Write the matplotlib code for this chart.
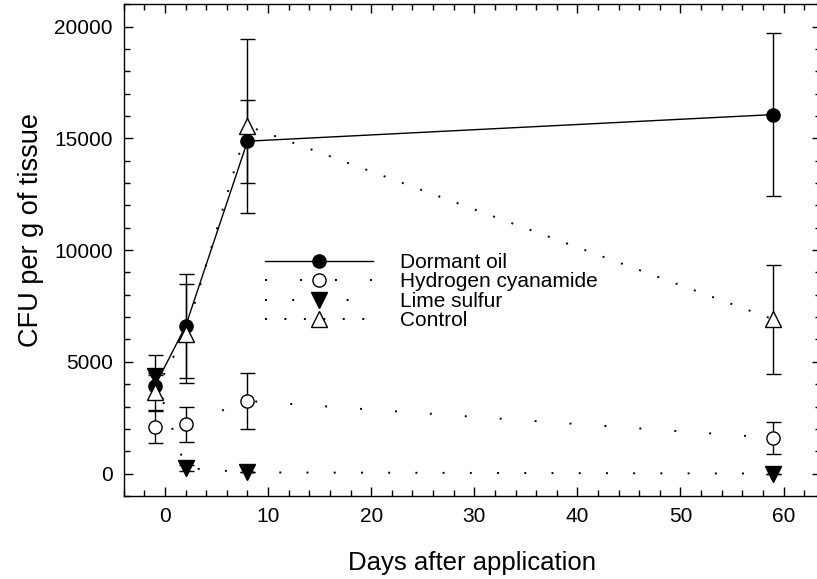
import matplotlib.pyplot as plt
from matplotlib.ticker import MultipleLocator

plt.rcParams['font.family'] = ['Liberation Sans', 'DejaVu Sans']

# sampling days and mean CFU counts (+/- error) for each treatment
days = [-1, 2, 8, 59]

dormant_oil = [3900, 6600, 14870, 16060]
dormant_oil_err = [500, 2320, 1850, 3660]

hydrogen_cyanamide = [2100, 2200, 3250, 1600]
hydrogen_cyanamide_err = [730, 770, 1240, 710]

lime_sulfur = [4350, 250, 50, 0]
lime_sulfur_err = [970, 150, 0, 0]

control = [3650, 6250, 15550, 6900]
control_err = [850, 2220, 3890, 2430]

fig = plt.figure(figsize=(8.17, 5.79), dpi=100)
ax = fig.add_axes([0.1515, 0.1435, 0.853, 0.8493])

bar_kw = dict(capsize=5.4, capthick=1.0, elinewidth=1.0, ecolor='black')

c1 = ax.errorbar(days, dormant_oil, yerr=dormant_oil_err, color='black', lw=1.0,
                 marker='o', ms=9.5, mfc='black', mec='black', mew=1.0, **bar_kw)
c2 = ax.errorbar(days, hydrogen_cyanamide, yerr=hydrogen_cyanamide_err, color='black',
                 lw=1.4, ls=(0, (1, 17)), marker='o', ms=9.5, mfc='white', mec='black',
                 mew=1.0, **bar_kw)
c3 = ax.errorbar(days, lime_sulfur, yerr=lime_sulfur_err, color='black',
                 lw=1.4, ls=(0, (1, 13)), marker='v', ms=11, mfc='black', mec='black',
                 mew=1.0, **bar_kw)
c4 = ax.errorbar(days, control, yerr=control_err, color='black',
                 lw=1.4, ls=(0, (1, 9)), marker='^', ms=11, mfc='white', mec='black',
                 mew=1.0, **bar_kw)

ax.set_xlim(-4, 63.6)
ax.set_ylim(-1000, 21000)
ax.xaxis.set_major_locator(MultipleLocator(10))
ax.xaxis.set_minor_locator(MultipleLocator(2))
ax.yaxis.set_major_locator(MultipleLocator(5000))
ax.yaxis.set_minor_locator(MultipleLocator(1000))
ax.tick_params(which='both', direction='in', top=True, right=True, width=1.0,
               labelsize=15, pad=8)
ax.tick_params(which='major', length=6.5)
ax.tick_params(which='minor', length=4.3)
for sp in ax.spines.values():
    sp.set_linewidth(1.0)

ax.set_xlabel('Days after application', fontsize=18.5, labelpad=18)
ax.set_ylabel('CFU per g of tissue', fontsize=19.5, labelpad=7, y=0.54)

ax.legend(handles=[c1.lines[0], c2.lines[0], c3.lines[0], c4.lines[0]],
          labels=['Dormant oil', 'Hydrogen cyanamide', 'Lime sulfur', 'Control'],
          loc='upper left', bbox_to_anchor=(265 / 817, 1 - 253 / 579),
          bbox_transform=fig.transFigure, frameon=False, fontsize=15,
          handlelength=5.2, handletextpad=1.3, labelspacing=0.02,
          borderpad=0, borderaxespad=0, numpoints=1)

fig.savefig('out.png', dpi=100)
